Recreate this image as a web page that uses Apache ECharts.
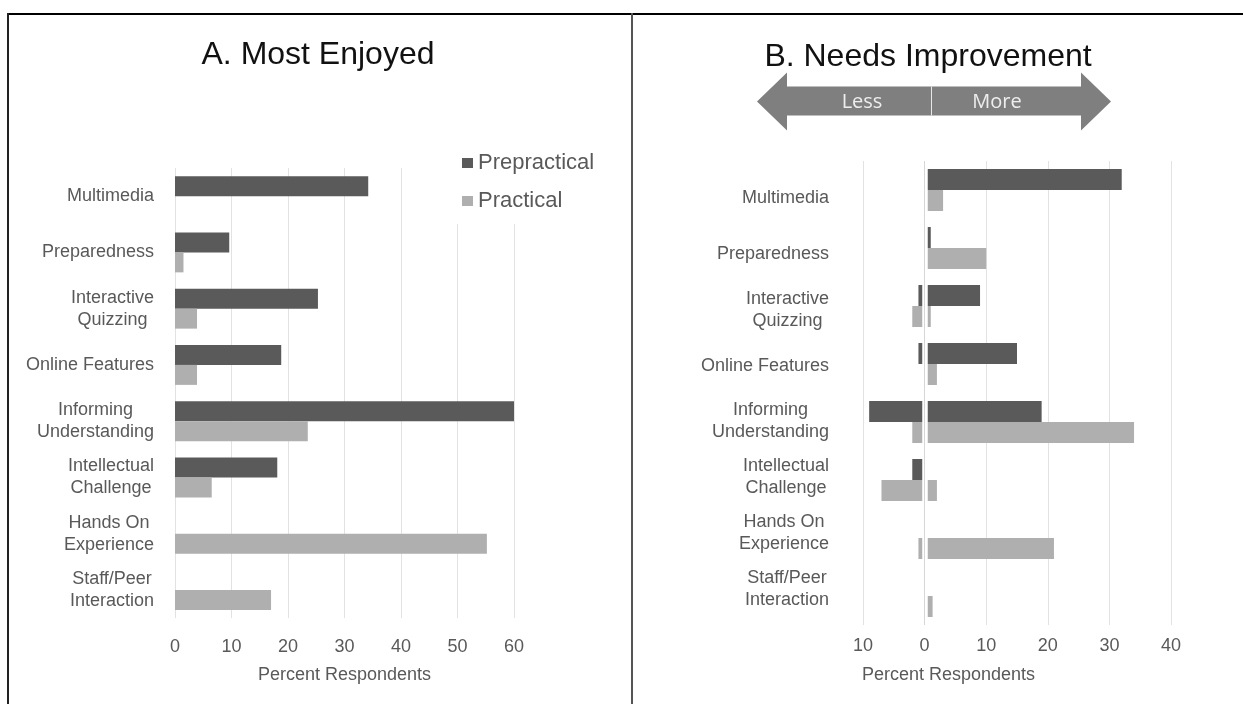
<!DOCTYPE html>
<html>
<head>
<meta charset="utf-8">
<script src="https://cdn.jsdelivr.net/npm/echarts@6/dist/echarts.min.js"></script>
<style>
  html, body { margin: 0; padding: 0; background: #fff; }
  #chart { width: 1243px; height: 704px; }
</style>
</head>
<body>
<div id="chart"></div>
<script>
// ---------- data ----------
const categories = [
  'Multimedia',
  'Preparedness',
  'Interactive\nQuizzing',
  'Online Features',
  'Informing\nUnderstanding',
  'Intellectual\nChallenge',
  'Hands On\nExperience',
  'Staff/Peer\nInteraction'
];
// A. Most Enjoyed (percent respondents)
const enjoyedPrepractical = [34.2, 9.6, 25.3, 18.8, 60, 18.1, 0, 0];
const enjoyedPractical    = [0, 1.5, 3.9, 3.9, 23.5, 6.5, 55.2, 17.0];
// B. Needs Improvement (positive = more, negative = less)
const improvePrepracticalMore = [32, 1, 9, 15, 19, 0, 0, 0];
const improvePrepracticalLess = [0, 0, -1, -1, -9, -2, 0, 0];
const improvePracticalMore    = [3, 10, 1, 2, 34, 2, 21, 1.3];
const improvePracticalLess    = [0, 0, -2, 0, -2, -7, -1, 0];
// axis ranges / ticks
const enjoyedTicks = [0, 10, 20, 30, 40, 50, 60];
const improveTicks = [-10, 0, 10, 20, 30, 40];
const seriesNames = ['Prepractical', 'Practical'];
const titles = ['A. Most Enjoyed', 'B. Needs Improvement'];
const arrowLabels = ['Less', 'More'];
const axisTitle = 'Percent Respondents';

// ---------- styling ----------
const DARK = '#5a5a5a';
const LIGHT = '#afafaf';
const TXT = '#595959';
const GRIDC = '#e2e2e2';
const FONT = '"Liberation Sans", Arial, sans-serif';

const mctx = document.createElement('canvas').getContext('2d');
function textWidth(t, size) {
  mctx.font = size + 'px "Liberation Sans"';
  return mctx.measureText(t).width;
}
// rich styles so multi-line labels are centred on each other but right-aligned as a block
const rich = {};
categories.forEach((c, i) => {
  const w = Math.max(...c.split('\n').map(l => textWidth(l, 18)));
  rich['c' + i] = { width: Math.ceil(w) + 1, align: 'center', fontSize: 18, lineHeight: 22, color: TXT, fontFamily: FONT };
});
function catFormatter(value, idx) {
  return value.split('\n').map(l => '{c' + idx + '|' + l + '}').join('\n');
}

const chart = echarts.init(document.getElementById('chart'), null, { renderer: 'canvas' });

const option = {
  animation: false,
  backgroundColor: '#fff',
  textStyle: { fontFamily: FONT },
  title: [
    { text: titles[0], left: 313, top: 34, textAlign: 'center',
      textStyle: { fontSize: 32, fontWeight: 'normal', color: '#111', fontFamily: FONT } },
    { text: titles[1], left: 923, top: 36, textAlign: 'center',
      textStyle: { fontSize: 32, fontWeight: 'normal', color: '#111', fontFamily: FONT } }
  ],
  legend: {
    data: seriesNames,
    orient: 'vertical',
    left: 450, top: 140,
    padding: [12, 14, 12, 12],
    itemGap: 16,
    itemWidth: 11, itemHeight: 10,
    icon: 'rect',
    backgroundColor: '#fff',
    textStyle: { fontSize: 22, color: TXT, fontFamily: FONT },
    selectedMode: false
  },
  grid: [
    { left: 175, width: 339, top: 168, height: 450 },
    { left: 863, width: 308, top: 161, height: 464 },
    { left: 863, width: 308, top: 170, height: 447 }
  ],
  xAxis: [
    { type: 'value', gridIndex: 0, min: enjoyedTicks[0], max: enjoyedTicks[enjoyedTicks.length - 1], interval: 10,
      axisLine: { show: false }, axisTick: { show: false },
      splitLine: { lineStyle: { color: GRIDC, width: 1 } },
      axisLabel: { fontSize: 18, color: TXT, margin: 20, fontFamily: FONT },
      name: axisTitle, nameLocation: 'middle', nameGap: 48,
      nameTextStyle: { fontSize: 18, color: TXT, fontFamily: FONT } },
    { type: 'value', gridIndex: 1, min: improveTicks[0], max: improveTicks[improveTicks.length - 1], interval: 10,
      axisLine: { show: false }, axisTick: { show: false },
      splitLine: { lineStyle: { color: GRIDC, width: 1 } },
      axisLabel: { fontSize: 18, color: TXT, margin: 12, fontFamily: FONT, formatter: v => String(Math.abs(v)) },
      name: axisTitle, nameLocation: 'middle', nameGap: 41,
      nameTextStyle: { fontSize: 18, color: TXT, fontFamily: FONT, padding: [0, 137, 0, 0] } },
    { type: 'value', gridIndex: 2, min: improveTicks[0], max: improveTicks[improveTicks.length - 1], show: false }
  ],
  yAxis: [
    { type: 'category', gridIndex: 0, data: categories, inverse: true,
      axisLine: { show: false }, axisTick: { show: false },
      axisLabel: { margin: 20, formatter: catFormatter, rich: rich } },
    { type: 'category', gridIndex: 1, data: categories, inverse: true,
      axisLine: { show: false }, axisTick: { show: false }, axisLabel: { show: false } },
    { type: 'category', gridIndex: 2, data: categories, inverse: true,
      axisLine: { show: false }, axisTick: { show: false },
      axisLabel: { margin: 33, formatter: catFormatter, rich: rich } }
  ],
  series: [
    { name: seriesNames[0], type: 'bar', xAxisIndex: 0, yAxisIndex: 0, data: enjoyedPrepractical,
      barWidth: 20, barGap: '0%', itemStyle: { color: DARK } },
    { name: seriesNames[1], type: 'bar', xAxisIndex: 0, yAxisIndex: 0, data: enjoyedPractical,
      barWidth: 20, barGap: '0%', itemStyle: { color: LIGHT } },

    { name: 'Prepractical more', type: 'bar', xAxisIndex: 1, yAxisIndex: 1, stack: 'pre',
      data: improvePrepracticalMore, barWidth: 21, barGap: '0%', itemStyle: { color: DARK },
      markLine: {
        silent: true, symbol: ['none', 'none'], label: { show: false }, animation: false,
        data: [
          { xAxis: 0, lineStyle: { color: '#ffffff', width: 5.5, type: 'solid' } },
          { xAxis: 0, lineStyle: { color: '#d6d6d6', width: 1, type: 'solid' } }
        ]
      } },
    { name: 'Practical more', type: 'bar', xAxisIndex: 1, yAxisIndex: 1, stack: 'prac',
      data: improvePracticalMore, barWidth: 21, barGap: '0%', itemStyle: { color: LIGHT } },
    { name: 'Prepractical less', type: 'bar', xAxisIndex: 1, yAxisIndex: 1, stack: 'pre',
      data: improvePrepracticalLess, barWidth: 21, barGap: '0%', itemStyle: { color: DARK } },
    { name: 'Practical less', type: 'bar', xAxisIndex: 1, yAxisIndex: 1, stack: 'prac',
      data: improvePracticalLess, barWidth: 21, barGap: '0%', itemStyle: { color: LIGHT } }
  ],
  graphic: [
    // frame lines
    { type: 'line', shape: { x1: 8, y1: 14, x2: 1243, y2: 14 }, style: { stroke: '#000', lineWidth: 2 }, silent: true },
    { type: 'line', shape: { x1: 8, y1: 13, x2: 8, y2: 704 }, style: { stroke: '#222', lineWidth: 2 }, silent: true },
    { type: 'line', shape: { x1: 632, y1: 13, x2: 632, y2: 704 }, style: { stroke: '#555', lineWidth: 2 }, silent: true },
    // double-headed Less/More arrow
    { type: 'polygon', silent: true,
      shape: { points: [[757, 101.5], [787, 72.5], [787, 86.5], [1081, 86.5], [1081, 72.5], [1111, 101.5],
                        [1081, 130.5], [1081, 115.5], [787, 115.5], [787, 130.5]] },
      style: { fill: '#7f7f7f' } },
    { type: 'line', silent: true, shape: { x1: 931.5, y1: 86.5, x2: 931.5, y2: 115.5 },
      style: { stroke: '#e8e8e8', lineWidth: 1 } },
    { type: 'text', silent: true, x: 862, y: 102,
      style: { text: arrowLabels[0], fill: '#eeeeee', font: '20px "Open Sans", sans-serif', align: 'center', verticalAlign: 'middle' } },
    { type: 'text', silent: true, x: 997, y: 102,
      style: { text: arrowLabels[1], fill: '#eeeeee', font: '20px "Open Sans", sans-serif', align: 'center', verticalAlign: 'middle' } }
  ]
};

chart.setOption(option);
</script>
</body>
</html>
